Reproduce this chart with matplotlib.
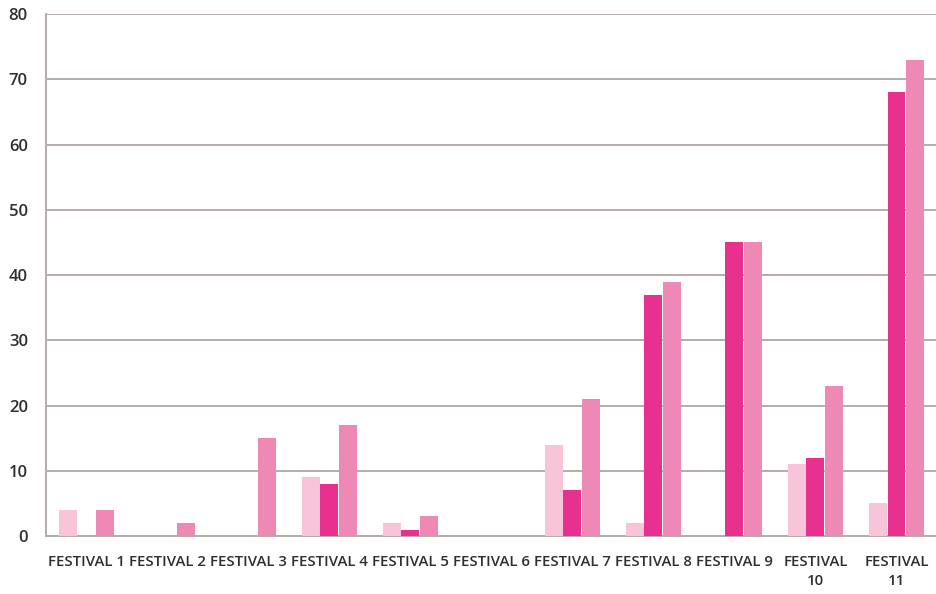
import numpy as np
import matplotlib
matplotlib.use("Agg")
import matplotlib.pyplot as plt

# ---- data ----
festivals = ["FESTIVAL 1", "FESTIVAL 2", "FESTIVAL 3", "FESTIVAL 4", "FESTIVAL 5",
             "FESTIVAL 6", "FESTIVAL 7", "FESTIVAL 8", "FESTIVAL 9",
             "FESTIVAL\n10", "FESTIVAL\n11"]
series_a = [4, 0, 0, 9, 2, 0, 14, 2, 0, 11, 5]
series_b = [0, 0, 0, 8, 1, 0, 7, 37, 45, 12, 68]
series_c = [4, 2, 15, 17, 3, 0, 21, 39, 45, 23, 73]
yticks = [0, 10, 20, 30, 40, 50, 60, 70, 80]

COLORS = ["#F7C4DA", "#E8318E", "#EE88B5"]
GRID = "#B5ABA8"
TEXT = "#2F2F2F"

plt.rcParams["font.family"] = ["Open Sans", "DejaVu Sans"]

fig = plt.figure(figsize=(9.37, 5.94), dpi=100)
ax = fig.add_axes([0.049, 0.0976, 0.951, 0.8788])

x = np.arange(len(festivals))
w = 0.222
for i, (vals, col) in enumerate(zip([series_a, series_b, series_c], COLORS)):
    ax.bar(x + (i - 1) * (w + 0.006), vals, width=w, color=col, zorder=3)

ax.set_xlim(-0.5, len(festivals) - 0.5)
ax.set_ylim(0, 80)
ax.set_yticks(yticks)
ax.yaxis.grid(True, color=GRID, linewidth=1.4, zorder=0)
ax.set_axisbelow(True)

ax.set_xticks(x)
ax.set_xticklabels(festivals, fontsize=10.8, fontweight="semibold", color=TEXT,
                   linespacing=1.45)
ax.tick_params(axis="x", length=0, pad=14)
ax.tick_params(axis="y", length=0, pad=13, labelsize=12, labelcolor=TEXT)
for lbl in ax.get_yticklabels():
    lbl.set_fontweight("semibold")

for side in ["top", "right"]:
    ax.spines[side].set_visible(False)
for side in ["left", "bottom"]:
    ax.spines[side].set_color(GRID)
    ax.spines[side].set_linewidth(1.4)

fig.savefig("out.png", dpi=100)
